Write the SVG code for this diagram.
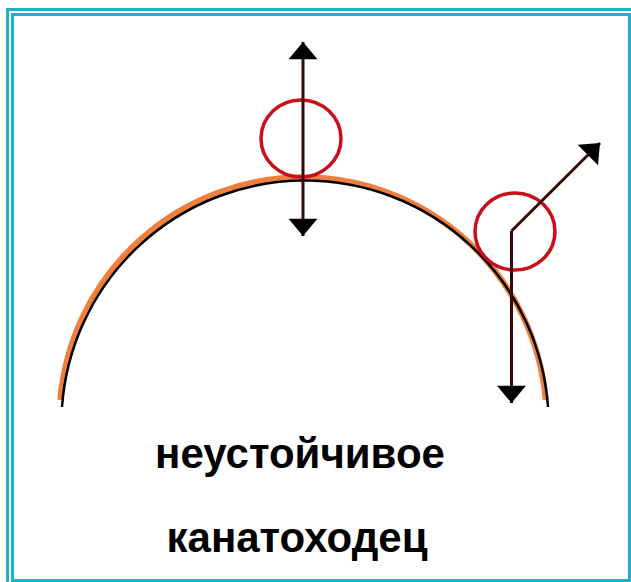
<svg xmlns="http://www.w3.org/2000/svg" width="631" height="582" viewBox="0 0 631 582">
<style>
.frame{fill:none;stroke:#20b0cc;stroke-width:3}
.ball{fill:none;stroke:#c8101a;stroke-width:3.5}
.vec{stroke:#3a0808;stroke-width:3;fill:none}
.lbl{font-family:"Liberation Sans",Arial,sans-serif;font-weight:bold;font-size:42px;fill:#000;text-anchor:middle}
</style>
<defs>
<marker id="ah" markerUnits="userSpaceOnUse" markerWidth="20" markerHeight="30" viewBox="0 -14 17 28" refX="16" refY="0" orient="auto-start-reverse">
<path d="M0,-13.5 L16,0 L0,13.5 z" fill="#000"/>
</marker>
</defs>
<rect width="631" height="582" fill="#fff"/>
<g id="frame">
<rect class="frame" x="7.5" y="9.5" width="640" height="600"/>
<rect class="frame" x="12.5" y="14.5" width="617" height="566"/>
</g>
<g id="hill">
<path d="M60.3,400 A243.6,243.6 0 0 1 545.7,400" fill="none" stroke="#f07e3e" stroke-width="6"/>
<path d="M62,407 A243.6,243.6 0 0 1 548,407" fill="none" stroke="#000" stroke-width="2.5"/>
</g>
<g id="ball-top">
<ellipse class="ball" cx="301" cy="138.5" rx="40" ry="38.5"/>
</g>
<g id="ball-side">
<ellipse class="ball" cx="515" cy="231.5" rx="40" ry="38.5"/>
</g>
<g id="connectors">
<line class="vec" x1="303" y1="42" x2="303" y2="236" marker-start="url(#ah)" marker-end="url(#ah)"/>
<line class="vec" x1="511.5" y1="231" x2="511.5" y2="403" marker-end="url(#ah)"/>
<line class="vec" x1="511.5" y1="231" x2="600" y2="143" marker-end="url(#ah)"/>
</g>
<g id="labels">
<text class="lbl" x="300" y="468">неустойчивое</text>
<text class="lbl" x="297" y="552">канатоходец</text>
</g>
</svg>
